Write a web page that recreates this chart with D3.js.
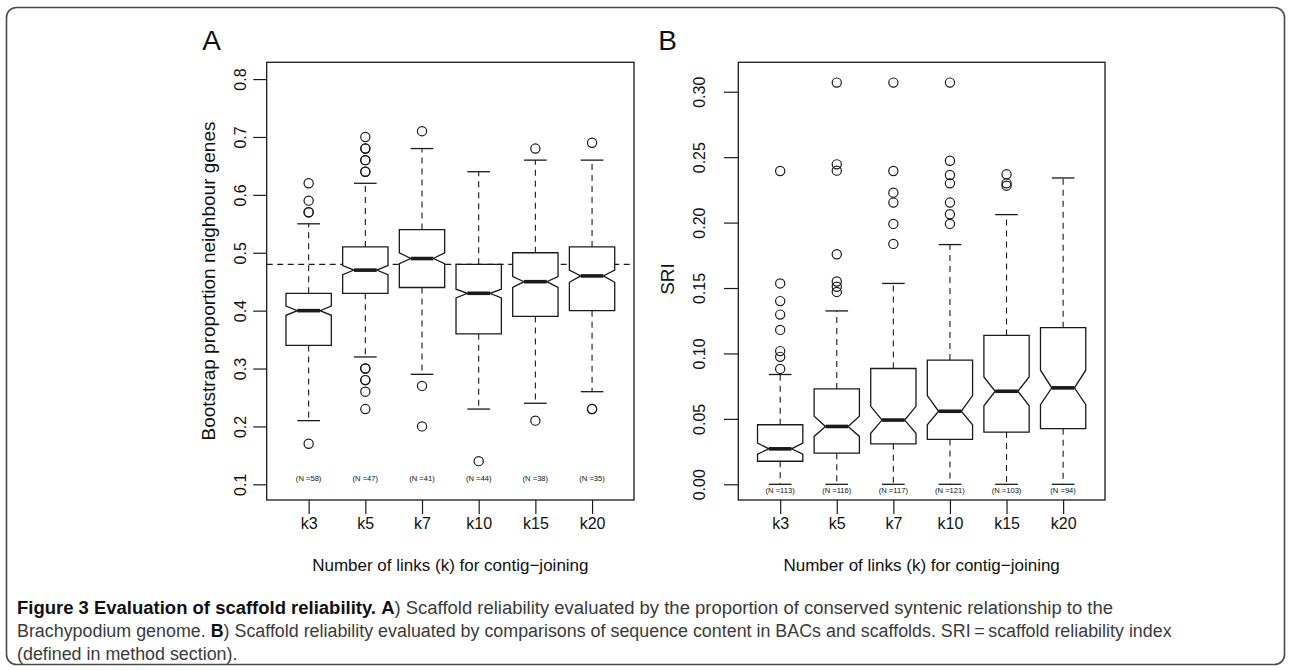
<!DOCTYPE html>
<html><head><meta charset="utf-8">
<script src="https://cdn.jsdelivr.net/npm/d3@7"></script>
<style>
body{margin:0;background:#fff}
svg{display:block}
text{font-family:"Liberation Sans",Arial,Helvetica,sans-serif;fill:#111}
</style>
</head><body>
<svg id="c" width="1290" height="670"></svg>
<script>
// ---------- data ----------
const categories = ["k3", "k5", "k7", "k10", "k15", "k20"];

// Panel A : bootstrap proportion neighbour genes
const aCounts      = [58, 47, 41, 44, 38, 35];
const aWhiskerLow  = [0.21, 0.32, 0.29, 0.23, 0.24, 0.26];
const aQ1          = [0.34, 0.43, 0.44, 0.36, 0.39, 0.40];
const aNotchLow    = [0.392, 0.462, 0.481, 0.422, 0.440, 0.449];
const aMedian      = [0.40, 0.47, 0.49, 0.43, 0.45, 0.46];
const aNotchHigh   = [0.408, 0.478, 0.500, 0.437, 0.459, 0.470];
const aQ3          = [0.43, 0.51, 0.54, 0.48, 0.50, 0.51];
const aWhiskerHigh = [0.55, 0.62, 0.68, 0.64, 0.66, 0.66];
const aOutliers = [
  [0.62, 0.59, 0.57, 0.57, 0.17],
  [0.70, 0.68, 0.68, 0.66, 0.66, 0.64, 0.64, 0.30, 0.30, 0.28, 0.28, 0.26, 0.23],
  [0.71, 0.27, 0.20],
  [0.14],
  [0.68, 0.21],
  [0.69, 0.23, 0.23]
];
const aReference = 0.48;
const aTicks = [0.1, 0.2, 0.3, 0.4, 0.5, 0.6, 0.7, 0.8];

// Panel B : SRI
const bCounts      = [113, 116, 117, 121, 103, 94];
const bWhiskerLow  = [0, 0, 0, 0, 0, 0];
const bQ1          = [0.0176, 0.0238, 0.0309, 0.0343, 0.0399, 0.0425];
const bNotchLow    = [0.0230, 0.0366, 0.0390, 0.0455, 0.0600, 0.0609];
const bMedian      = [0.0271, 0.0442, 0.0491, 0.0558, 0.0711, 0.0737];
const bNotchHigh   = [0.0315, 0.0520, 0.0596, 0.0678, 0.0820, 0.0872];
const bQ3          = [0.0455, 0.0729, 0.0885, 0.0949, 0.1138, 0.1197];
const bWhiskerHigh = [0.0839, 0.1325, 0.1535, 0.1832, 0.2061, 0.2341];
const bOutliers = [
  [0.2394, 0.1535, 0.1400, 0.1297, 0.1180, 0.1018, 0.0974, 0.0882],
  [0.3070, 0.2445, 0.2397, 0.1758, 0.1550, 0.1510, 0.1470],
  [0.3070, 0.2394, 0.2229, 0.2153, 0.1990, 0.1837],
  [0.3070, 0.2473, 0.2364, 0.2300, 0.2153, 0.2064, 0.1990],
  [0.2369, 0.2300, 0.2282],
  []
];
const bTicks = [0.00, 0.05, 0.10, 0.15, 0.20, 0.25, 0.30];

const xTitle = "Number of links (k) for contig\u2212joining";

// ---------- drawing ----------
const svg = d3.select("#c");
const ink = "#1a1a1a";

// outer frame
svg.append("rect").attr("x", 6.5).attr("y", 7.5).attr("width", 1278).attr("height", 657)
  .attr("rx", 10).attr("fill", "none").attr("stroke", "#4a4a4a").attr("stroke-width", 1.6);

function panel(o) {
  const g = svg.append("g");
  const x = d3.scalePoint().domain(categories).range([o.left, o.right]).padding(0.74);
  const y = d3.scaleLinear().domain(o.domain).range([o.bottom, o.top]);
  const hw = x.step() * 0.4;

  // plot box
  g.append("rect").attr("x", o.left).attr("y", o.top)
    .attr("width", o.right - o.left).attr("height", o.bottom - o.top)
    .attr("fill", "none").attr("stroke", ink).attr("stroke-width", 1.3);

  // y axis
  const ya = g.append("g").attr("transform", `translate(${o.left},0)`)
    .call(d3.axisLeft(y).tickValues(o.ticks).tickSize(o.tickLen).tickSizeOuter(0).tickFormat(d3.format(o.fmt)));
  ya.select(".domain").remove();
  ya.selectAll(".tick line").attr("stroke", ink).attr("stroke-width", 1.2);
  ya.selectAll(".tick text").attr("x", 0).attr("dy", "0.36em").attr("text-anchor", "middle")
    .attr("transform", `translate(${-o.labelOff},0) rotate(-90)`)
    .style("font-size", "16px").style("font-family", "Liberation Sans, Arial, sans-serif").attr("fill", ink);

  // x axis
  const xa = g.append("g").attr("transform", `translate(0,${o.bottom})`)
    .call(d3.axisBottom(x).tickSize(14).tickSizeOuter(0).tickPadding(4));
  xa.select(".domain").remove();
  xa.selectAll(".tick line").attr("stroke", ink).attr("stroke-width", 1.2);
  xa.selectAll(".tick text").style("font-size", "16px")
    .style("font-family", "Liberation Sans, Arial, sans-serif").attr("fill", ink);

  // reference line
  if (o.ref !== undefined) {
    g.append("line").attr("x1", o.left).attr("x2", o.right)
      .attr("y1", y(o.ref)).attr("y2", y(o.ref))
      .attr("stroke", ink).attr("stroke-width", 1.1).attr("stroke-dasharray", "6,4.5");
  }

  categories.forEach((c, i) => {
    const cx = x(c);
    // whiskers
    [[o.q3[i], o.wHi[i]], [o.q1[i], o.wLo[i]]].forEach(([a, b]) => {
      g.append("line").attr("x1", cx).attr("x2", cx).attr("y1", y(a)).attr("y2", y(b))
        .attr("stroke", ink).attr("stroke-width", 1.1).attr("stroke-dasharray", "6,5");
      g.append("line").attr("x1", cx - hw / 2).attr("x2", cx + hw / 2).attr("y1", y(b)).attr("y2", y(b))
        .attr("stroke", ink).attr("stroke-width", 1.3);
    });
    // notched box
    const pts = [
      [cx - hw, y(o.q1[i])], [cx - hw, y(o.nLo[i])], [cx - hw / 2, y(o.med[i])],
      [cx - hw, y(o.nHi[i])], [cx - hw, y(o.q3[i])], [cx + hw, y(o.q3[i])],
      [cx + hw, y(o.nHi[i])], [cx + hw / 2, y(o.med[i])], [cx + hw, y(o.nLo[i])],
      [cx + hw, y(o.q1[i])]
    ];
    g.append("path").attr("d", d3.line()(pts) + "Z")
      .attr("fill", "#fff").attr("stroke", ink).attr("stroke-width", 1.3);
    g.append("line").attr("x1", cx - hw / 2).attr("x2", cx + hw / 2)
      .attr("y1", y(o.med[i])).attr("y2", y(o.med[i]))
      .attr("stroke", ink).attr("stroke-width", 3.6);
    // outliers
    o.out[i].forEach(v => {
      g.append("circle").attr("cx", cx).attr("cy", y(v)).attr("r", 4.6)
        .attr("fill", "none").attr("stroke", ink).attr("stroke-width", 1.2);
    });
    // N labels
    g.append("text").attr("x", cx).attr("y", o.nY).attr("text-anchor", "middle")
      .attr("dy", "0.35em").style("font-size", "7.6px").attr("fill", "#333")
      .text(`(N =${o.counts[i]})`);
  });

  // axis titles
  g.append("text").attr("x", (o.left + o.right) / 2).attr("y", 571).attr("text-anchor", "middle")
    .style("font-size", "17px").text(xTitle);
  g.append("text").attr("transform", `translate(${o.yTitleX},${o.yTitleY}) rotate(-90)`)
    .attr("text-anchor", "middle").attr("dy", "0.36em").style("font-size", "19px").text(o.yTitle);
  g.append("text").attr("x", o.letterX).attr("y", 50).attr("text-anchor", "middle")
    .style("font-size", "28px").text(o.letter);
}

panel({
  left: 266.7, right: 634, top: 62.3, bottom: 500,
  domain: [0.0729, 0.829], ticks: aTicks, fmt: ".1f", tickLen: 13.5, labelOff: 26.7,
  q1: aQ1, q3: aQ3, med: aMedian, nLo: aNotchLow, nHi: aNotchHigh,
  wLo: aWhiskerLow, wHi: aWhiskerHigh, out: aOutliers, counts: aCounts, nY: 478.3,
  ref: aReference, yTitle: "Bootstrap proportion neighbour genes", yTitleX: 208, yTitleY: 281,
  letter: "A", letterX: 211.7
});

panel({
  left: 738.3, right: 1105, top: 62.3, bottom: 500,
  domain: [-0.012, 0.3225], ticks: bTicks, fmt: ".2f", tickLen: 14.3, labelOff: 39.3,
  q1: bQ1, q3: bQ3, med: bMedian, nLo: bNotchLow, nHi: bNotchHigh,
  wLo: bWhiskerLow, wHi: bWhiskerHigh, out: bOutliers, counts: bCounts, nY: 490.7,
  yTitle: "SRI", yTitleX: 667, yTitleY: 279,
  letter: "B", letterX: 667.5
});

// ---------- caption ----------
const captionLines = [
  [["Figure 3 Evaluation of scaffold reliability. ", true], ["A", true],
   [") Scaffold reliability evaluated by the proportion of conserved syntenic relationship to the", false]],
  [["Brachypodium genome. ", false], ["B", true],
   [") Scaffold reliability evaluated by comparisons of sequence content in BACs and scaffolds. SRI\u2009=\u2009scaffold reliability index", false]],
  [["(defined in method section).", false]]
];
const captionBaselines = [614, 637.3, 660];
const captionEnds = [1113, 1172, null];
const capFont = "'Liberation Sans Narrow','Liberation Sans',Arial,sans-serif";
let lastScale = 1;
captionLines.forEach((parts, li) => {
  const t = svg.append("text").attr("x", 0).attr("y", 0)
    .style("font-family", capFont).style("font-size", "19px");
  parts.forEach(([s, b]) => {
    t.append("tspan").text(s)
      .style("font-weight", b ? "700" : "400")
      .style("font-family", capFont)
      .attr("fill", b ? "#111" : "#3a3a3a");
  });
  const len = t.node().getComputedTextLength();
  const sx = captionEnds[li] ? (captionEnds[li] - 17) / len : lastScale;
  lastScale = sx;
  t.attr("transform", `translate(17,${captionBaselines[li]}) scale(${sx},1)`);
});
</script>
</body></html>
